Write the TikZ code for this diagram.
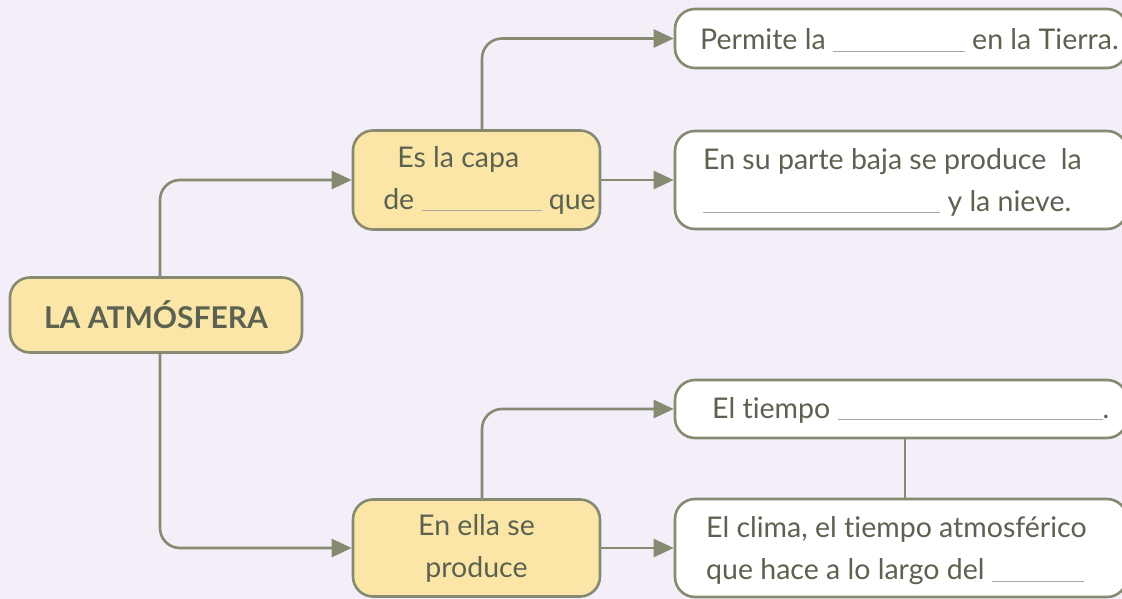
\documentclass[tikz,border=0pt]{standalone}
\usepackage{fontspec}
\setmainfont{Lato}[Ligatures=NoCommon]
\usetikzlibrary{arrows.meta,positioning}
\definecolor{bgc}{HTML}{F4EEF8}
\definecolor{linec}{HTML}{858A70}
\definecolor{txtc}{HTML}{5C6250}
\definecolor{yel}{HTML}{FBE6A8}
\definecolor{blankc}{HTML}{A8ABA0}
\newcommand{\blank}[1]{{\color{blankc}\rule[-2pt]{#1pt}{0.9pt}}}
\tikzset{
  base/.style={draw=linec, line width=2.6pt, rounded corners=20pt, text=txtc, inner sep=0pt},
  yelbox/.style={base, fill=yel, align=center},
  whitebox/.style={base, fill=white},
  txt/.style={text=txtc, inner sep=0pt, anchor=west, align=left},
  conn/.style={draw=linec, line width=2.6pt, rounded corners=20pt, -{Triangle[length=20pt,width=18pt]}},
  plain/.style={draw=linec, line width=2.6pt}
}
\begin{document}
\begin{tikzpicture}[x=1pt,y=-1pt]
\fill[bgc] (0,0) rectangle (1122,599);
\useasboundingbox (0,0) rectangle (1122,599);
\clip (0,0) rectangle (1122,599);
\fontsize{28.5}{42}\selectfont
\node[yelbox, minimum width=292pt, minimum height=75pt] (root) at (156,315) {\bfseries\fontsize{30}{34}\selectfont LA ATMÓSFERA};
\node[yelbox, align=left, minimum width=247pt, minimum height=99pt] (capa) at (476.5,180) {\hspace*{40pt}Es la capa\\\hspace*{26pt}de \blank{120} que};
\node[yelbox, minimum width=247pt, minimum height=97pt] (ella) at (476.5,548) {En ella se\\produce};
\node[whitebox, minimum width=452pt, minimum height=59pt] (b1) at (901,38.5) {};
\node[whitebox, minimum width=452pt, minimum height=98pt] (b2) at (901,180) {};
\node[whitebox, minimum width=452pt, minimum height=58pt] (b3) at (901,409) {};
\node[whitebox, minimum width=452pt, minimum height=98pt] (b4) at (901,548) {};
\node[txt] (t1) at (700,40) {Permite la \blank{132} en la Tierra.};
\node[txt] (t2) at (703,182) {En su parte baja se produce\ \ la\\\blank{237} y la nieve.};
\node[txt] (t3) at (712,410) {El tiempo \blank{265}.};
\node[txt] (t4) at (706,551) {El clima, el tiempo atmosférico\\que hace a lo largo del \blank{92}};
\draw[conn] (root.north -| 160,0) |- (capa.west);
\draw[conn] (root.south -| 160,0) |- (ella.west);
\draw[conn] (capa.north -| 482,0) |- (b1.west);
\draw[conn] (capa.east) -- (b2.west);
\draw[conn] (ella.north -| 482,0) |- (b3.west);
\draw[conn] (ella.east) -- (b4.west);
\draw[plain] (b3.south -| 905,0) -- (b4.north -| 905,0);
\end{tikzpicture}
\end{document}
